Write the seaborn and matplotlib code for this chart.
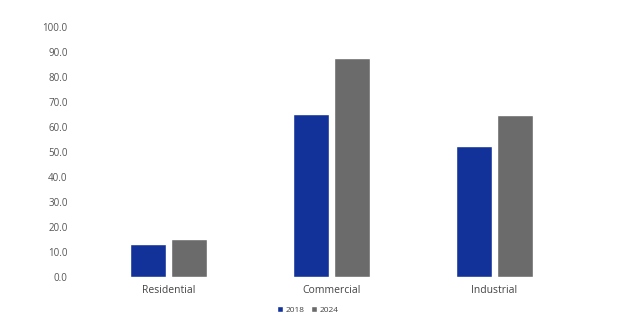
import matplotlib
matplotlib.use('Agg')
import matplotlib.pyplot as plt
import seaborn as sns
import pandas as pd

# data
sectors = ['Residential', 'Commercial', 'Industrial']
years = ['2018', '2024']
values_2018 = [13.1, 65.3, 52.3]
values_2024 = [15.4, 87.6, 64.8]
y_ticks = [0, 10, 20, 30, 40, 50, 60, 70, 80, 90, 100]

df = pd.DataFrame({
    'Sector': sectors * 2,
    'Year': [years[0]] * 3 + [years[1]] * 3,
    'Value': values_2018 + values_2024,
})

sns.set_style('white')
plt.rcParams['font.family'] = ['Open Sans', 'DejaVu Sans']

fig = plt.figure(figsize=(6.2, 3.15), dpi=100)
ax = fig.add_axes([87 / 620, 38 / 315, 489 / 620, 250 / 315])

sns.barplot(data=df, x='Sector', y='Value', hue='Year',
            palette=['#12329a', '#6b6b6b'], width=0.5, gap=0.1,
            saturation=1, ax=ax, legend=True)

ax.set_xlim(-0.5, 2.5)
ax.set_ylim(0, 100)
ax.set_yticks(y_ticks)
ax.set_yticklabels([f'{t:.1f}' for t in y_ticks], fontsize=7, color='#555555')
ax.tick_params(axis='x', labelsize=7.5, colors='#444444', length=0, pad=6)
ax.tick_params(axis='y', length=0, pad=14)
ax.set_xlabel('')
ax.set_ylabel('')
for s in ax.spines.values():
    s.set_visible(False)
ax.grid(False)

ax.legend(loc='upper center', bbox_to_anchor=(308 / 620, 14 / 315),
          bbox_transform=fig.transFigure, ncol=2, frameon=False,
          fontsize=6, handlelength=0.7, handleheight=0.7,
          columnspacing=0.8, handletextpad=0.3, labelcolor='#444444',
          borderpad=0.1)

fig.savefig('out.png', dpi=100)
